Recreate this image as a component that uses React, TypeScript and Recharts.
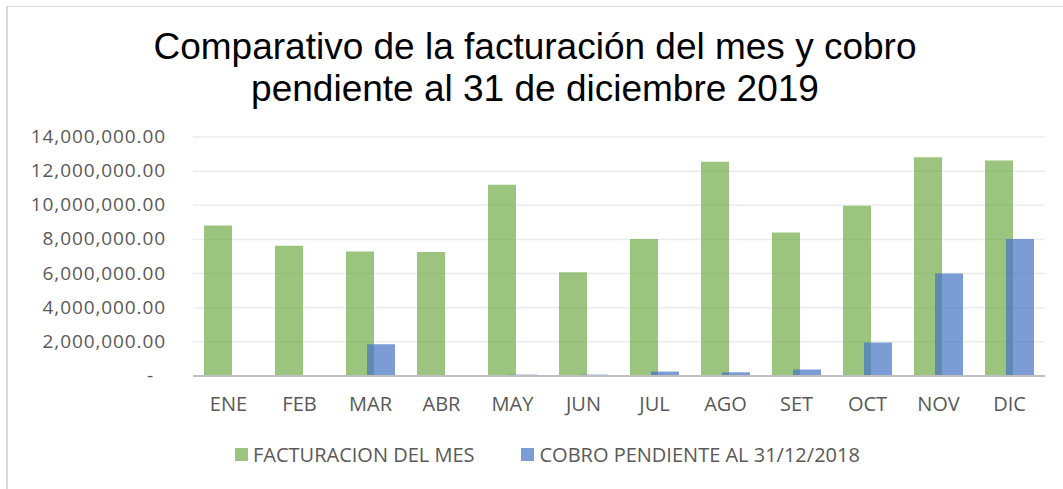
import { BarChart, Bar, XAxis, YAxis, CartesianGrid } from 'recharts';

const months = ['ENE', 'FEB', 'MAR', 'ABR', 'MAY', 'JUN', 'JUL', 'AGO', 'SET', 'OCT', 'NOV', 'DIC'];

// facturación del mes
const facturacion = [
  8820000, 7630000, 7300000, 7260000, 11200000, 6080000,
  8020000, 12550000, 8410000, 9980000, 12820000, 12630000,
];

// cobro pendiente al 31/12/2018
const cobroPendiente = [
  0, 0, 1860000, 0, 80000, 80000,
  260000, 220000, 380000, 1960000, 6000000, 8020000,
];

const yTicks = [0, 2000000, 4000000, 6000000, 8000000, 10000000, 12000000, 14000000];

const seriesNames = ['FACTURACION DEL MES', 'COBRO PENDIENTE AL 31/12/2018'];
const seriesColors = ['#70AD47', '#4472C4'];

const titleLines = [
  'Comparativo de la facturación del mes y cobro',
  'pendiente al 31 de diciembre 2019',
];

const chartData = months.map((m, i) => ({
  month: m,
  facturacion: facturacion[i],
  cobro: cobroPendiente[i],
}));

const axisFont = '"Open Sans", "Noto Sans", sans-serif';

// Excel accounting style: zero shows as a dash, offset to the left
const YTick = ({ x, y, payload }: any) => {
  const v = payload.value as number;
  const label =
    v === 0
      ? '-'
      : v.toLocaleString('en-US', { minimumFractionDigits: 2, maximumFractionDigits: 2 });
  return (
    <text
      x={v === 0 ? x - 12 : x}
      y={y}
      dy={6}
      textAnchor="end"
      fill="#595959"
      fontSize={19}
      letterSpacing={0.9}
      fontFamily={axisFont}
    >
      {label}
    </text>
  );
};

export default function App() {
  return (
    <div
      style={{
        position: 'absolute',
        left: 0,
        top: 0,
        width: 1063,
        height: 489,
        background: '#fff',
        overflow: 'hidden',
      }}
    >
      {/* chart frame, only top and left edges visible */}
      <div
        style={{
          position: 'absolute',
          left: 6,
          top: 6,
          width: 1057,
          height: 483,
          boxSizing: 'border-box',
          borderTop: '1.5px solid #d9d9d9',
          borderLeft: '2px solid #d9d9d9',
        }}
      />

      {titleLines.map((line, i) => (
        <div
          key={i}
          style={{
            position: 'absolute',
            left: 0,
            width: 1070,
            top: 25 + i * 42,
            textAlign: 'center',
            fontFamily: '"Liberation Sans", Arial, sans-serif',
            fontSize: 37,
            lineHeight: '44px',
            color: '#000',
            whiteSpace: 'pre',
          }}
        >
          {line}
        </div>
      ))}

      <div style={{ position: 'absolute', left: 0, top: 0 }}>
        <BarChart
          width={1063}
          height={489}
          data={chartData}
          margin={{ top: 137, right: 18, bottom: 83, left: 0 }}
          barSize={28}
          barGap={-7}
        >
          <CartesianGrid vertical={false} stroke="#ececec" strokeWidth={1.5} />
          <XAxis
            dataKey="month"
            tickLine={false}
            axisLine={{ stroke: '#bfbfbf', strokeWidth: 2 }}
            tickMargin={15}
            tick={{ fill: '#595959', fontSize: 20, fontFamily: axisFont }}
            interval={0}
          />
          <YAxis
            width={193}
            domain={[0, 14000000]}
            ticks={yTicks}
            axisLine={false}
            tickLine={false}
            tickSize={0}
            tickMargin={27}
            tick={<YTick />}
            interval={0}
          />
          <Bar
            dataKey="facturacion"
            name={seriesNames[0]}
            fill={seriesColors[0]}
            fillOpacity={0.7}
            isAnimationActive={false}
          />
          <Bar
            dataKey="cobro"
            name={seriesNames[1]}
            fill={seriesColors[1]}
            fillOpacity={0.7}
            isAnimationActive={false}
          />
        </BarChart>
      </div>

      {/* legend */}
      <div
        style={{
          position: 'absolute',
          top: 441,
          left: 235,
          display: 'flex',
          alignItems: 'center',
          fontFamily: axisFont,
          fontSize: 20,
          lineHeight: '27px',
          color: '#595959',
        }}
      >
        {seriesNames.map((name, i) => (
          <div
            key={name}
            style={{ display: 'flex', alignItems: 'center', marginRight: i === 0 ? 47 : 0 }}
          >
            <span
              style={{
                display: 'inline-block',
                width: 13,
                height: 13,
                background: seriesColors[i],
                opacity: 0.7,
                marginRight: 5,
              }}
            />
            <span>{name}</span>
          </div>
        ))}
      </div>
    </div>
  );
}
